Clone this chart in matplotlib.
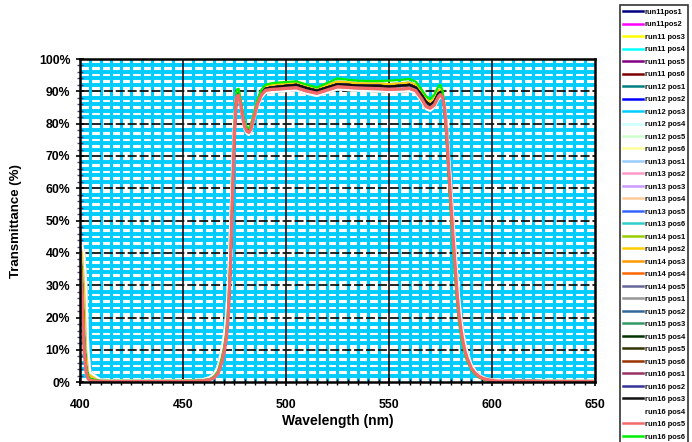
import matplotlib
matplotlib.use("Agg")
import matplotlib.pyplot as plt
from matplotlib.ticker import MultipleLocator, PercentFormatter

plt.rcParams['font.family'] = ['Liberation Sans', 'DejaVu Sans']
plt.rcParams['font.weight'] = 'bold'

# wavelength sampling (nm)
wavelength = [400, 401, 402, 403, 404, 405, 410, 420, 440, 455, 460, 463, 465, 467,
              469, 470, 471, 472, 473, 474, 475, 476, 477, 478, 479, 480, 481, 482,
              483, 484, 486, 488, 490, 493, 496, 500, 505, 510, 515, 520, 525, 530,
              535, 540, 545, 550, 555, 560, 563, 566, 568, 570, 572, 574, 575, 576,
              577, 578, 579, 580, 581, 582, 583, 584, 585, 586, 587, 588, 590, 592,
              594, 596, 598, 600, 605, 610, 620, 630, 640, 650]

# transmittance (%) - bulk of the runs
t_mid = [40.5, 30, 12, 4, 1.5, 0.8, 0.4, 0.3, 0.3, 0.4, 0.6, 0.9, 1.5, 3,
         7, 10, 14, 22, 36, 58, 78, 88.8, 89.3, 86.5, 82.5, 79.5, 78.2, 77.8,
         78.8, 81.2, 86.2, 89.2, 90.8, 91.2, 91.4, 91.7, 92.0, 91.0, 90.2, 91.2, 92.2, 92.0,
         91.8, 91.7, 91.7, 91.5, 91.7, 92.0, 91.2, 88.7, 86.7, 85.8, 86.8, 89.3, 89.8, 88.8,
         84.5, 76.5, 65.5, 55, 45, 36, 27.5, 20.5, 15.5, 12, 9.2, 7.2, 4.2, 2.6,
         1.6, 1.0, 0.7, 0.5, 0.4, 0.4, 0.4, 0.3, 0.3, 0.3]

# light runs sitting slightly above the bulk
t_light = [43, 42, 36, 20, 6, 2, 0.6, 0.4, 0.4, 0.5, 0.8, 1.2, 2, 4,
           9, 12.5, 17, 26, 42, 64, 82, 89.6, 89.9, 87, 83, 80, 78.8, 78.4,
           79.5, 82, 87, 90, 91.5, 92, 92.2, 92.4, 92.6, 91.6, 90.8, 91.9, 93, 92.8,
           92.5, 92.4, 92.4, 92.2, 92.4, 92.7, 92, 89.5, 87.5, 86.6, 87.7, 90.2, 90.6, 89.6,
           85.5, 78, 68, 58, 48, 39, 30, 22.5, 17, 13.2, 10.2, 8, 4.8, 3,
           1.9, 1.2, 0.9, 0.7, 0.5, 0.5, 0.5, 0.4, 0.4, 0.4]

# pale runs just under the lowest curve, slightly wider band
t_pale = [42, 42.5, 40, 30, 10, 3, 0.8, 0.5, 0.5, 0.6, 1.0, 1.6, 2.6, 5,
          11, 15, 21, 32, 50, 68, 82, 87.5, 88, 85.2, 81.2, 78.2, 76.9, 76.5,
          77.5, 80, 85, 88, 89.5, 89.8, 89.9, 90.1, 90.3, 89.3, 88.6, 89.6, 90.6, 90.4,
          90.2, 90.1, 90.0, 89.8, 89.9, 90.1, 89.4, 86.7, 84.5, 84.0, 85.0, 87.5, 88.2, 87.8,
          85.5, 80, 71, 62, 52, 43, 34, 26, 20, 15.5, 12, 9.5, 5.5, 3.5,
          2.2, 1.5, 1.1, 0.8, 0.6, 0.5, 0.5, 0.4, 0.4, 0.4]

# run16 pos6 - highest plateau
t_high = [41, 33, 15, 5, 2, 1, 0.5, 0.4, 0.4, 0.5, 0.7, 1.0, 1.7, 3.4,
          8, 11, 15.5, 24, 39, 61, 80, 90.5, 90.8, 87.5, 83.5, 80.3, 78.9, 78.5,
          79.6, 82.2, 87.3, 90.5, 92, 92.5, 92.7, 92.9, 93.1, 92.1, 91.2, 92.6, 94.0, 93.6,
          93.3, 93.2, 93.2, 93.3, 93.5, 93.8, 93.0, 90.4, 88.5, 87.6, 89.0, 91.6, 92.0, 90.2,
          84, 75, 63, 52, 42, 33, 25, 18.5, 14, 10.8, 8.3, 6.5, 3.8, 2.3,
          1.4, 0.9, 0.6, 0.4, 0.3, 0.3, 0.3, 0.3, 0.2, 0.2]

# run16 pos5 - lowest plateau
t_low = [40, 28, 10, 3, 1, 0.5, 0.3, 0.2, 0.2, 0.3, 0.5, 0.8, 1.3, 2.7,
         6.5, 9.5, 13.5, 21, 35, 57, 77, 88.3, 88.8, 86, 82, 79, 77.7, 77.3,
         78.3, 80.8, 85.8, 88.8, 90.3, 90.6, 90.7, 90.9, 91.1, 90.1, 89.4, 90.4, 91.4, 91.2,
         91.0, 90.9, 90.8, 90.6, 90.7, 90.9, 90.2, 87.5, 85.3, 84.8, 85.8, 88.3, 89.0, 88.2,
         84.5, 77, 66, 56, 46, 37, 28, 21, 16, 12.3, 9.4, 7.4, 4.3, 2.7,
         1.7, 1.1, 0.8, 0.5, 0.3, 0.3, 0.2, 0.2, 0.2, 0.2]

curves = {'mid': t_mid, 'light': t_light, 'pale': t_pale, 'high': t_high, 'low': t_low}

labels = ['run11pos1', 'run11pos2', 'run11 pos3', 'run11 pos4', 'run11 pos5', 'run11 pos6',
          'run12 pos1', 'run12 pos2', 'run12 pos3', 'run12 pos4', 'run12 pos5', 'run12 pos6',
          'run13 pos1', 'run13 pos2', 'run13 pos3', 'run13 pos4', 'run13 pos5', 'run13 pos6',
          'run14 pos1', 'run14 pos2', 'run14 pos3', 'run14 pos4', 'run14 pos5',
          'run15 pos1', 'run15 pos2', 'run15 pos3', 'run15 pos4', 'run15 pos5', 'run15 pos6',
          'run16 pos1', 'run16 pos2', 'run16 pos3', 'run16 pos4', 'run16 pos5', 'run16 pos6']

colors = ['#000080', '#FF00FF', '#FFFF00', '#00FFFF', '#800080', '#800000',
          '#008080', '#0000FF', '#00CCFF', '#CCFFFF', '#CCFFCC', '#FFFF99',
          '#99CCFF', '#FF99CC', '#CC99FF', '#FFCC99', '#3366FF', '#33CCCC',
          '#99CC00', '#FFCC00', '#FF9900', '#FF6600', '#666699',
          '#969696', '#336699', '#339966', '#003300', '#333300', '#993300',
          '#993366', '#333399', '#111111', '#FFFFFF', '#F26A6A', '#00EE00']

# which measured curve each run follows
series_curve = ['mid', 'mid', 'light', 'light', 'mid', 'mid',
                'mid', 'mid', 'light', 'pale', 'pale', 'light',
                'light', 'mid', 'mid', 'light', 'mid', 'mid',
                'mid', 'light', 'mid', 'mid', 'mid',
                'pale', 'mid', 'mid', 'mid', 'mid', 'mid',
                'mid', 'mid', 'mid', 'pale', 'low', 'high']

fig = plt.figure(figsize=(6.92, 4.42), dpi=100)
ax = fig.add_axes([0.1156, 0.1351, 0.7442, 0.7314])

# minor cyan grid
for x in range(405, 650, 5):
    if x % 50:
        ax.axvline(x, color='#00CCFF', lw=2.2, zorder=0)
for y in range(2, 100, 2):
    if y % 10:
        ax.axhline(y, color='#00CCFF', lw=2.8, zorder=0)
# major grid
for x in range(450, 650, 50):
    ax.axvline(x, color='black', lw=1.1, zorder=1)
for y in range(10, 100, 10):
    ax.axhline(y, color='#111111', lw=1.3, ls=(0, (5, 1.6)), zorder=1)

for lab, col, key in zip(labels, colors, series_curve):
    lw = 2.4 if key == 'low' else 1.6
    z = 4 if key == 'low' else 3
    ax.plot(wavelength, curves[key], color=col, lw=lw, label=lab, zorder=z,
            solid_joinstyle='round')

ax.set_xlim(400, 650)
ax.set_ylim(0, 100)
ax.xaxis.set_major_locator(MultipleLocator(50))
ax.xaxis.set_minor_locator(MultipleLocator(5))
ax.yaxis.set_major_locator(MultipleLocator(10))
ax.yaxis.set_minor_locator(MultipleLocator(2))
ax.yaxis.set_major_formatter(PercentFormatter(decimals=0))
ax.tick_params(axis='both', which='major', labelsize=8.8, direction='inout', length=6,
               width=1.2, pad=4)
ax.tick_params(axis='x', which='major', pad=9)
ax.tick_params(axis='both', which='minor', direction='inout', length=4, width=1.0)
ax.tick_params(axis='y', which='minor', colors='#4a4a7a')
for side in ['left', 'right', 'top', 'bottom']:
    ax.spines[side].set_linewidth(1.8)
    ax.spines[side].set_zorder(5)

ax.set_xlabel('Wavelength (nm)', fontsize=10, fontweight='bold', labelpad=2)
ax.set_ylabel('Transmittance (%)', fontsize=9.5, fontweight='bold', labelpad=12)

leg = fig.legend(loc='upper left', bbox_to_anchor=(620 / 692, 1 - 5 / 442),
                 fontsize=5.4, handlelength=2.6, handletextpad=0.25,
                 labelspacing=0.7, borderpad=0.45, frameon=True, fancybox=False,
                 borderaxespad=0)
leg.get_frame().set_edgecolor('black')
leg.get_frame().set_linewidth(1.2)
for line in leg.get_lines():
    line.set_linewidth(1.8)

fig.savefig('out.png', dpi=100)
